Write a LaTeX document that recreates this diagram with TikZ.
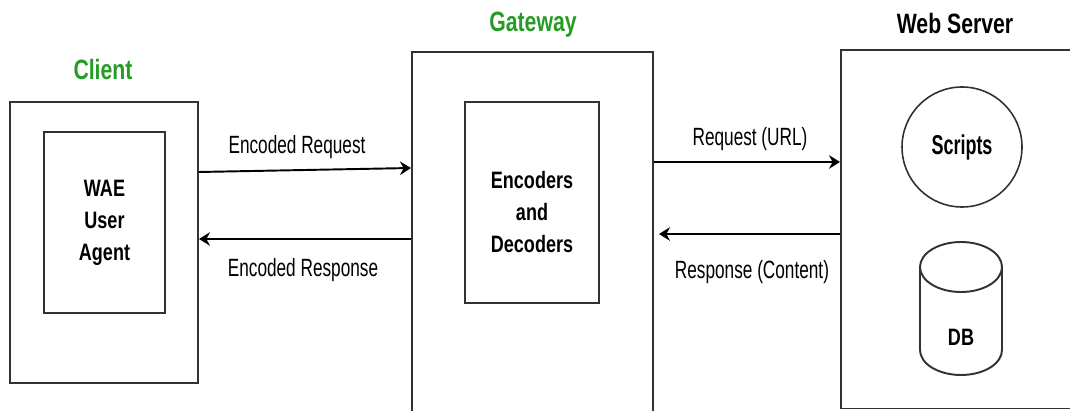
\documentclass[tikz,border=0pt]{standalone}
\usepackage{fontspec}
\setmainfont{Liberation Sans}
\newfontfamily\lblfont[FakeStretch=0.69]{Liberation Sans}
\newfontfamily\headfont[FakeStretch=0.76]{Liberation Sans}
\newfontfamily\tallfont[FakeStretch=0.66]{Liberation Sans}
\usepackage{xcolor}
\usetikzlibrary{arrows.meta}
\definecolor{titlegreen}{RGB}{38,155,38}
\definecolor{boxgray}{RGB}{50,50,50}

\begin{document}
\begin{tikzpicture}
		\tikzset{box/.style = {shape=rectangle, draw=boxgray, line width=1.1pt, fill=white, inner sep=0pt}}
		\tikzset{inbox/.style = {box, align=center, font=\headfont\bfseries\fontsize{13.5}{18.2}\selectfont}}
		\tikzset{title/.style = {font=\headfont\bfseries\fontsize{15.9}{18}\selectfont}}
		\tikzset{lbl/.style = {font=\lblfont\fontsize{14.2}{17}\selectfont, inner sep=0pt}}
		\tikzset{flow/.style = {draw=black, line width=1.1pt, -{Stealth[length=0.22cm, width=0.27cm]}}}

		\useasboundingbox (0,0) rectangle (21.4,8.2);
		\clip (0,0) rectangle (21.4,8.2);

		% client side
		\node[box, minimum width=3.76cm, minimum height=5.62cm] (Client) at (2.08,3.35) {};
		\node[inbox, minimum width=2.42cm, minimum height=3.62cm] (WAE) at (2.09,3.75) {WAE\\User\\Agent};
		\node[title, text=titlegreen] (Client_t) at (2.06,6.8) {Client};

		% gateway
		\node[box, minimum width=4.82cm, minimum height=7.56cm] (Gate) at (10.65,3.38) {};
		\node[inbox, minimum width=2.68cm, minimum height=4.02cm] (Codec) at (10.64,4.15) {};
		\node[inbox, draw=none, fill=none] (Codec_t) at (10.64,3.96) {Encoders\\and\\Decoders};
		\node[title, text=titlegreen] (Gate_t) at (10.66,7.7) {Gateway};

		% web server
		\node[box, minimum width=4.98cm, minimum height=7.17cm] (Server) at (19.31,3.615) {};
		\node[title] (Server_t) at (19.1,7.72) {Web Server};
		\node[inbox, circle, minimum size=2.4cm, line width=0.9pt, font=\tallfont\bfseries\fontsize{15.5}{18}\selectfont] (Scripts) at (19.24,5.26) {Scripts};
		\draw[boxgray, line width=1.1pt, fill=white] (18.4,2.86) -- (18.4,1.2)
			arc[start angle=180, end angle=360, x radius=0.82, y radius=0.5] -- (20.04,2.86);
		\draw[boxgray, line width=1.1pt, fill=white] (19.22,2.86) ellipse [x radius=0.82, y radius=0.5];
		\node[inbox, draw=none, fill=none] (DB) at (19.22,1.46) {DB};

		% messages
		\draw[flow] ([yshift=1.41cm]Client.east) to node[lbl, midway, yshift=0.46cm, xshift=-0.16cm] (Req_t) {Encoded Request} ([yshift=1.46cm]Gate.west);
		\draw[flow] ([yshift=0.04cm]Gate.west) to node[lbl, midway, yshift=-0.62cm, xshift=-0.04cm] (Resp_t) {Encoded Response} ([yshift=0.07cm]Client.east);
		\draw[flow] ([yshift=1.58cm]Gate.east) to node[lbl, midway, yshift=0.46cm, xshift=0.06cm] (Url_t) {Request (URL)} ([yshift=1.345cm]Server.west);
		\draw[flow, shorten >=0.1cm] ([yshift=-0.095cm]Server.west) to node[lbl, midway, yshift=-0.76cm, xshift=0.1cm] (Cont_t) {Response (Content)} ([yshift=0.14cm]Gate.east);
	\end{tikzpicture}
\end{document}
